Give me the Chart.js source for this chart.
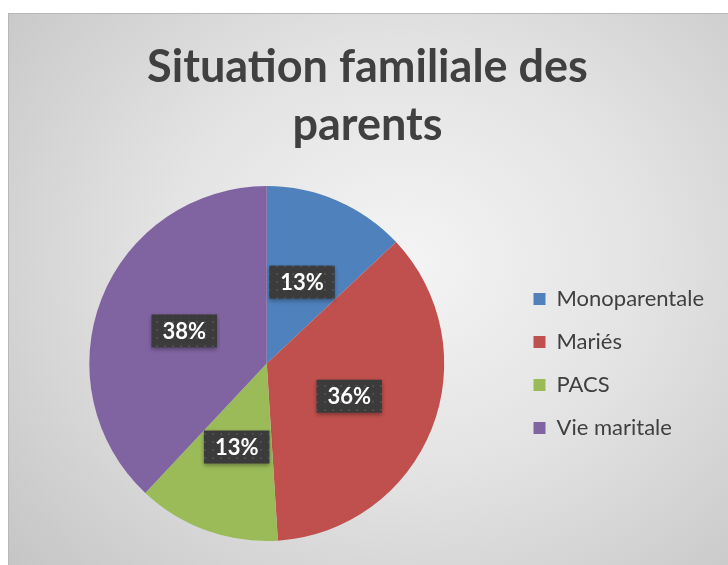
<!DOCTYPE html>
<html>
<head>
<meta charset="utf-8">
<script src="https://cdn.jsdelivr.net/npm/chart.js@4.4.1/dist/chart.umd.min.js"></script>
<style>
  html, body { margin: 0; padding: 0; background: #fff; }
  #wrap {
    position: absolute; left: 8px; top: 13px; width: 720px; height: 552px;
    border-top: 1px solid #b8b8b8; border-left: 1px solid #b8b8b8;
    box-sizing: border-box;
    background: radial-gradient(ellipse 75% 85% at 55% 45%, #f4f4f4 0%, #e3e3e3 45%, #c4c4c4 100%);
  }
</style>
</head>
<body>
<div id="wrap"><canvas id="pie"></canvas></div>
<script>
// data
const categories = ['Monoparentale', 'Mariés', 'PACS', 'Vie maritale'];
const shares = [13, 36, 13, 38];
const sliceColors = ['#4f81bd', '#c0504d', '#9bbb59', '#8064a2'];
const titleLines = ['Situation familiale des', 'parents'];

// dotted dark texture behind the percent labels
const makeTexture = () => {
  const c = document.createElement('canvas');
  c.width = 8; c.height = 8;
  const g = c.getContext('2d');
  g.fillStyle = '#3b3b3b';
  g.fillRect(0, 0, 8, 8);
  g.fillStyle = '#4e4e4e';
  g.fillRect(3, 3, 2, 2);
  return g.createPattern(c, 'repeat');
};

const percentLabels = {
  id: 'percentLabels',
  afterDatasetsDraw(chart) {
    const ctx = chart.ctx;
    const tex = makeTexture();
    const meta = chart.getDatasetMeta(0);
    ctx.save();
    ctx.font = 'bold 22px Lato';
    ctx.textAlign = 'center';
    ctx.textBaseline = 'middle';
    meta.data.forEach((arc, i) => {
      const p = arc.tooltipPosition();
      const txt = chart.data.datasets[0].data[i] + '%';
      const w = ctx.measureText(txt).width + 22;
      const h = 33;
      ctx.shadowColor = 'rgba(0,0,0,0.35)';
      ctx.shadowBlur = 4;
      ctx.shadowOffsetY = 2;
      ctx.fillStyle = tex;
      ctx.fillRect(p.x - w / 2, p.y - h / 2, w, h);
      ctx.shadowColor = 'transparent';
      ctx.fillStyle = '#ffffff';
      ctx.fillText(txt, p.x, p.y + 1);
    });
    ctx.restore();
  },
};

const ctx = document.getElementById('pie').getContext('2d');
new Chart(ctx, {
  type: 'pie',
  data: {
    labels: categories,
    datasets: [
      {
        data: shares,
        backgroundColor: sliceColors,
        borderWidth: 0,
      },
    ],
  },
  options: {
    responsive: true,
    maintainAspectRatio: false,
    animation: false,
    layout: {
      padding: { top: 0, bottom: 24, left: 12, right: 14 },
    },
    plugins: {
      title: {
        display: true,
        text: titleLines,
        color: '#404040',
        font: { family: 'Lato', size: 45, weight: 'bold', lineHeight: 1.29 },
        padding: { top: 24, bottom: 32 },
      },
      legend: {
        position: 'right',
        fullSize: false,
        labels: {
          boxWidth: 12,
          boxHeight: 12,
          padding: 21,
          color: '#404040',
          font: { family: 'Lato', size: 22 },
        },
      },
      tooltip: { enabled: false },
    },
  },
  plugins: [percentLabels],
});
</script>
</body>
</html>
